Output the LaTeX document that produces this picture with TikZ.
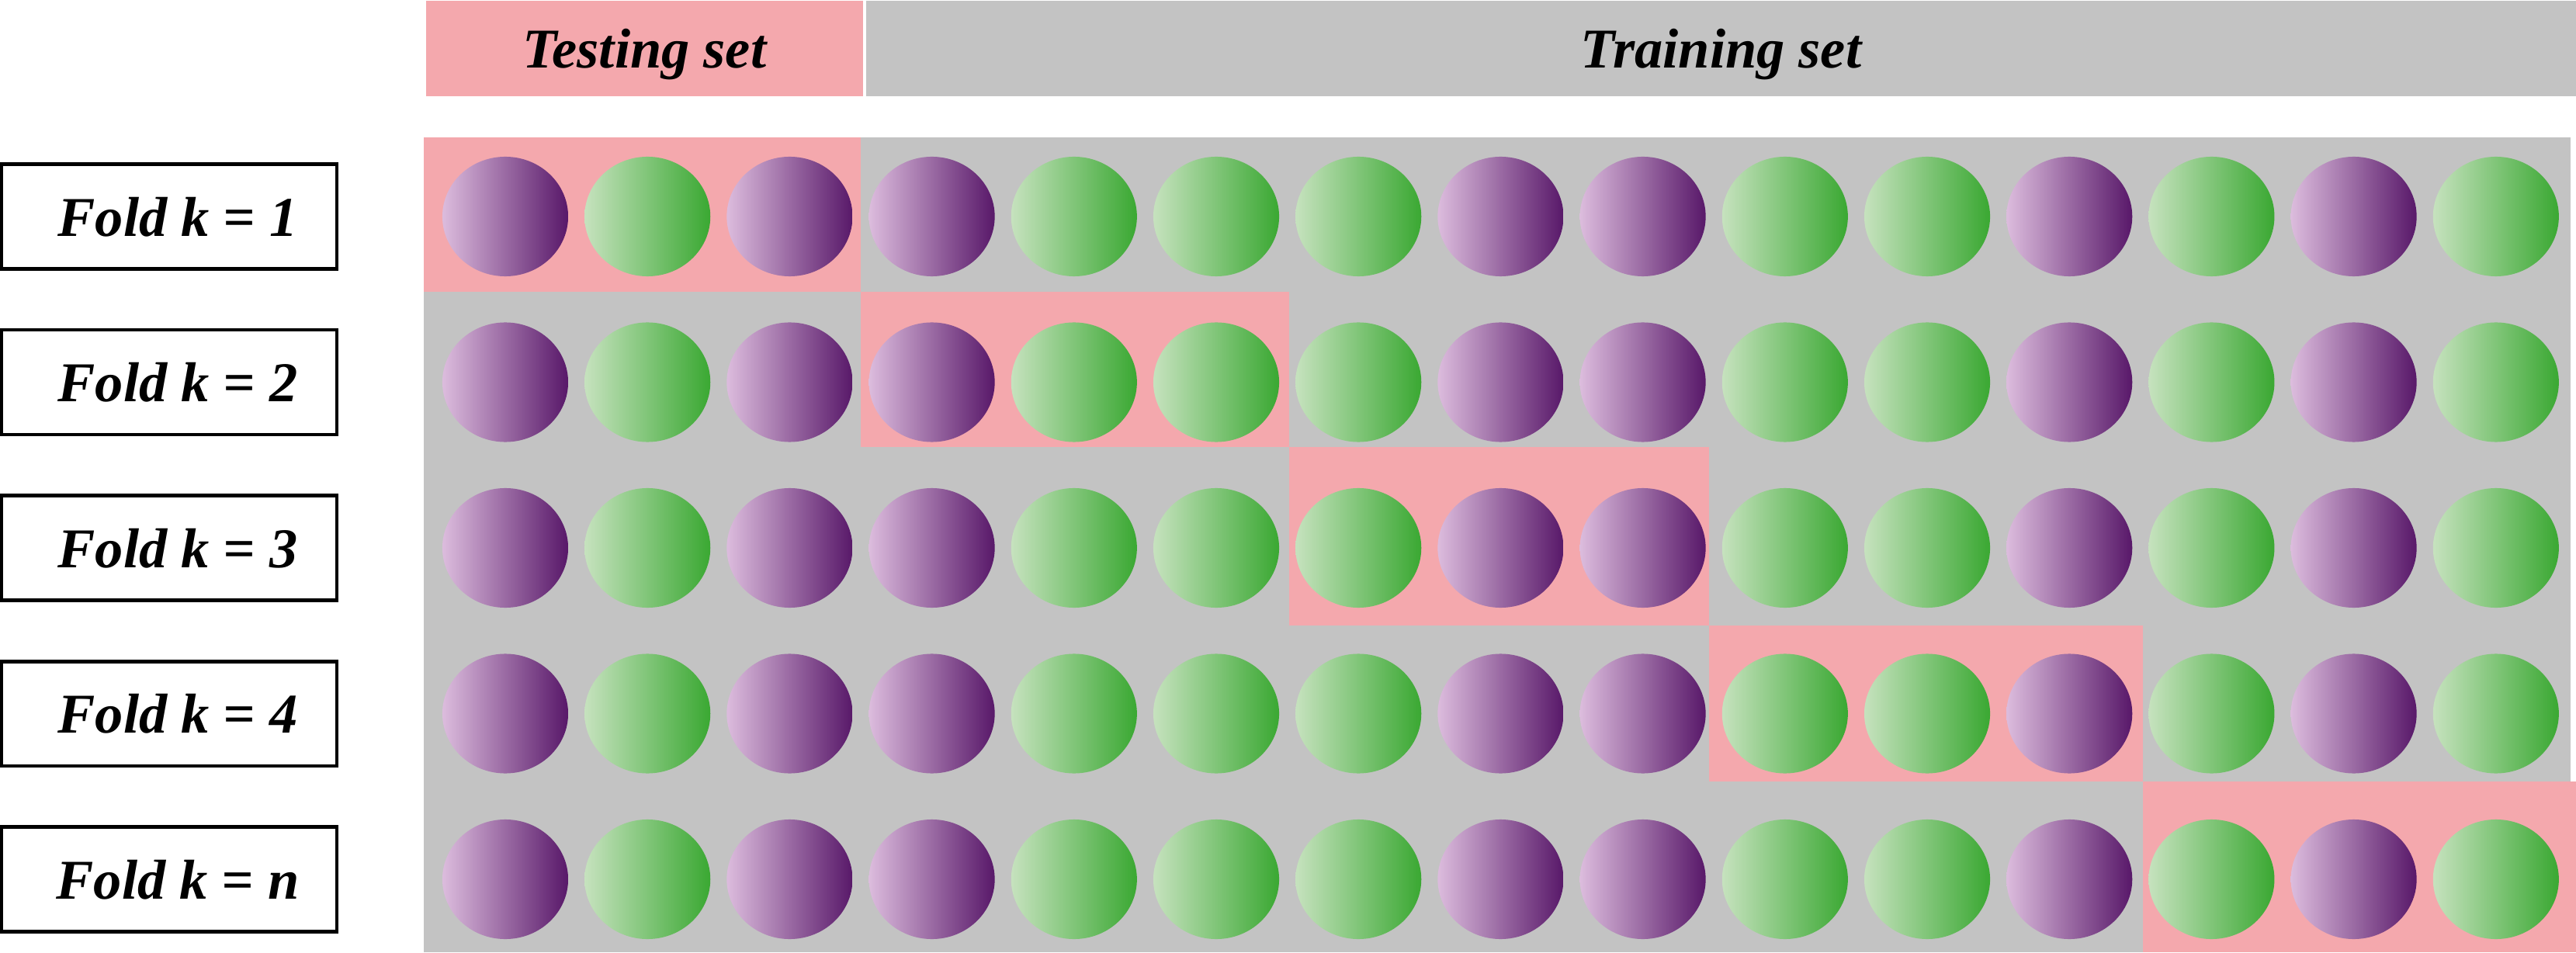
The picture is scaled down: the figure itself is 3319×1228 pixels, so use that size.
\documentclass[tikz,border=0pt]{standalone}
\usepackage{fontspec}
\setmainfont{Liberation Serif}
\usepackage{tikz}
\usetikzlibrary{shapes.geometric}

\definecolor{pinkband}{HTML}{F4A8AD}
\definecolor{greyband}{HTML}{C3C3C3}
\definecolor{p1}{HTML}{DCBCDD}
\definecolor{p2}{HTML}{581869}
\definecolor{g1}{HTML}{C6E2BE}
\definecolor{g2}{HTML}{3AA832}

\begin{document}
\begin{tikzpicture}[x=0.01cm,y=-0.01cm,
 lab/.style={font=\fontsize{20.6}{24}\selectfont\bfseries\itshape, text depth=0pt, inner sep=0pt},
 foldbox/.style={lab, draw, line width=1.3pt, minimum width=4.315cm, minimum height=1.345cm},
 ball/.style={ellipse, inner sep=0pt, minimum width=1.62cm, minimum height=1.54cm, left color=#11, right color=#12}]
 \useasboundingbox (0,0) rectangle (3319,1228);
 % header
 \node[lab, fill=pinkband, minimum width=5.63cm, minimum height=1.23cm] (testhead) at (830.5,62.5) {Testing set};
 \node[lab, fill=greyband, minimum width=22.01cm, minimum height=1.23cm] (trainhead) at (2217.5,62.5) {Training set};
 % folds: row, top, bottom, testing from, testing to
 \foreach \r/\ya/\yb/\xa/\xb in {1/177/376/546/1109, 2/376/576/1109/1661, 3/576/806/1661/2202, 4/806/1007/2202/2761, 5/1007/1227/2761/3319} {
  \fill[greyband] (546,\ya) rectangle (3312,\yb);
  \fill[pinkband] (\xa,\ya) rectangle (\xb,\yb);
  \pgfmathsetmacro\yc{279+213.5*(\r-1)}
  \foreach \kind [count=\i] in {p,g,p,p,g,g,g,p,p,g,g,p,g,p,g}
   \node[ball=\kind] (b\r-\i) at ({651+183.2*(\i-1)},\yc) {};
 }
 \foreach \r/\k in {1/1,2/2,3/3,4/4,5/n}
  \node[foldbox] (fold\r) at (218,{279+213.5*(\r-1)}) {\hspace{0.22cm}Fold k = \k};
\end{tikzpicture}
\end{document}
